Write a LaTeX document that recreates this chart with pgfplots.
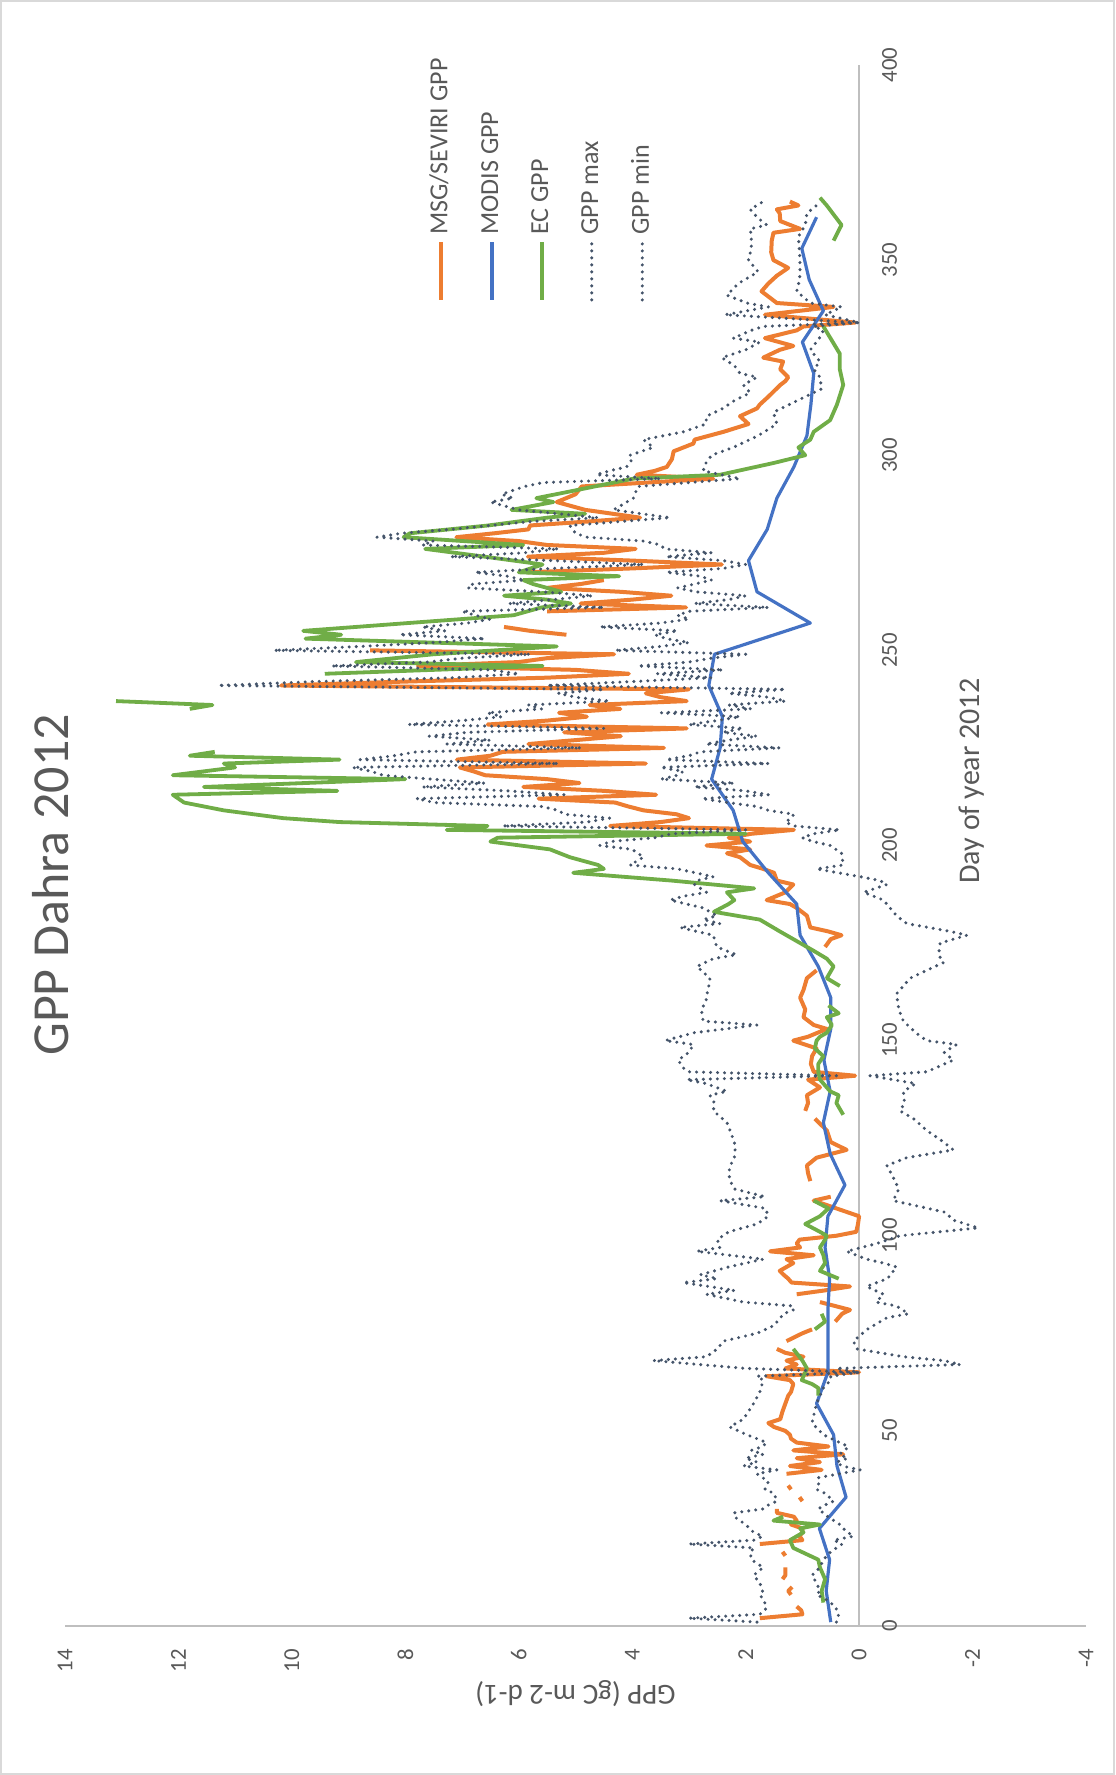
\documentclass[border=0pt]{standalone}
\usepackage{fontspec}
\setmainfont{Carlito}
\usepackage{pgfplots}
\usepackage{pgfplotstable}
\pgfplotsset{compat=1.18}

\definecolor{msg}{HTML}{ED7D31}
\definecolor{modis}{HTML}{4472C4}
\definecolor{ec}{HTML}{70AD47}
\definecolor{env}{HTML}{44546A}
\definecolor{txt}{HTML}{595959}
\definecolor{axln}{HTML}{BFBFBF}
\definecolor{chartframe}{HTML}{D9D9D9}

% MSG/SEVIRI daily GPP (nan = missing day)
\pgfplotstableread{
day val
2 1.75
3 1.00
4 1.02
5 1.10
6 nan
8 1.20
9 1.25
10 1.18
11 nan
12 1.35
13 1.30
15 1.30
16 nan
18 1.30
19 1.35
20 nan
21 1.75
22 1.00
23 1.05
24 1.00
25 1.00
26 1.20
27 1.10
28 1.15
29 1.45
30 1.45
31 nan
32 1.00
33 1.05
34 nan
35 1.20
36 1.25
37 nan
39 1.28
40 0.66
41 1.22
42 0.69
43 1.10
44 0.28
45 1.16
46 0.54
47 1.10
48 1.20
49 1.22
50 1.30
51 1.50
52 1.60
53 1.39
55 1.35
57 1.30
59 1.25
60 1.20
62 1.16
63 1.22
64 1.63
65 0.00
66 1.30
67 1.10
68 1.28
69 0.98
70 1.30
71 1.45
72 nan
73 1.28
75 1.00
76 0.83
77 nan
78 0.42
80 0.30
81 0.16
83 0.69
84 nan
85 1.10
86 0.60
87 0.16
88 1.19
89 1.25
90 1.33
91 1.40
93 1.16
94 1.28
95 0.80
96 1.57
97 1.04
98 1.10
99 1.05
100 0.40
101 0.05
103 0.02
105 0.00
107 0.40
109 0.80
110 0.50
111 nan
114 0.86
116 0.90
118 0.92
120 0.75
122 0.22
124 0.50
127 0.57
130 0.78
131 nan
132 0.95
134 0.90
136 0.92
138 0.69
140 0.90
141 0.07
142 0.80
144 0.85
146 0.83
148 0.75
150 1.16
151 0.90
153 0.57
154 0.80
156 0.98
158 0.95
161 1.04
163 0.98
166 0.92
168 0.75
169 nan
174 0.60
176 0.50
177 0.31
178 0.55
179 0.86
181 0.90
182 0.92
184 1.10
185 1.22
186 1.63
188 1.30
190 1.16
191 1.45
193 1.50
194 1.69
195 1.92
197 2.10
198 2.33
199 1.92
200 2.69
201 1.92
202 2.30
203 1.90
204 1.15
205 4.39
206 3.50
207 3.00
208 3.22
209 3.80
210 4.07
211 4.30
212 5.65
213 3.58
214 4.50
215 5.92
216 4.93
217 5.50
218 6.59
219 6.80
220 7.04
221 3.76
222 7.09
223 6.50
224 6.28
225 3.44
226 5.83
227 5.00
228 4.20
229 5.20
230 3.04
231 6.55
232 5.50
233 4.80
234 5.29
235 4.21
236 4.75
237 3.04
238 3.50
239 3.76
240 3.00
241 10.19
242 8.00
243 5.50
244 4.06
245 5.00
246 7.78
247 6.00
248 5.50
249 4.32
250 8.62
251 nan
254 5.16
255 5.80
256 6.26
257 nan
260 5.50
261 3.05
262 4.91
263 4.00
264 3.31
265 4.20
266 5.50
267 4.91
268 4.50
269 nan
270 5.84
271 4.00
272 2.42
273 4.00
274 5.84
275 4.50
276 3.94
277 5.50
278 6.00
279 7.10
280 6.43
281 5.83
282 5.80
283 4.80
284 3.86
286 4.83
288 5.33
290 5.00
292 4.89
294 2.57
295 3.92
296 3.60
297 3.39
299 3.30
301 3.27
303 2.92
304 2.90
306 2.39
308 1.95
310 2.10
312 1.80
313 1.75
315 1.60
318 1.39
319 1.30
320 1.25
322 1.39
324 1.34
325 1.69
327 1.40
328 1.16
330 1.66
332 1.10
333 0.98
334 0.07
336 1.66
338 0.45
339 1.45
342 1.72
344 1.60
346 1.45
348 1.25
350 1.51
352 1.55
355 1.54
357 1.51
358 1.04
360 1.39
362 1.40
363 1.45
364 1.07
365 1.22
}\msgtab

% MODIS 8-day GPP
\pgfplotstableread{
day val
1 0.50
9 0.58
17 0.52
25 0.70
33 0.23
41 0.39
49 0.45
57 0.75
65 0.55
73 0.55
81 0.55
89 0.52
97 0.60
105 0.55
113 0.25
121 0.51
129 0.63
137 0.51
145 0.62
153 0.50
161 0.50
169 0.72
177 1.04
185 1.10
193 1.60
201 2.05
209 2.22
217 2.60
225 2.45
233 2.41
241 2.65
249 2.55
257 0.86
265 1.80
273 1.95
281 1.62
289 1.45
297 1.15
305 0.92
313 0.85
321 0.80
329 1.00
337 0.63
345 0.88
353 1.01
361 0.75
}\modistab

% Eddy covariance GPP
\pgfplotstableread{
day val
6 0.63
9 0.66
12 0.60
15 0.69
17 0.72
20 1.16
22 1.22
24 0.98
25 1.04
26 0.69
27 1.51
28 1.34
29 nan
59 0.72
61 0.72
62 0.83
63 1.01
66 0.92
68 1.00
71 1.16
72 nan
76 0.78
78 0.60
80 0.66
81 nan
89 0.36
91 0.69
93 0.60
95 0.63
97 0.69
99 0.60
100 0.57
101 0.69
103 0.95
105 0.69
107 0.54
109 0.80
110 nan
131 0.28
134 0.40
136 0.36
137 0.51
140 0.69
142 0.72
144 0.72
146 0.63
148 0.78
150 0.75
151 0.69
152 0.57
154 0.48
156 0.57
157 0.36
159 0.54
160 nan
164 0.34
166 0.57
169 0.45
171 0.57
173 0.80
176 1.16
178 1.40
181 1.75
183 2.56
185 2.30
186 2.20
188 2.33
189 1.85
191 3.30
193 5.04
194 4.50
195 4.60
197 5.10
199 5.45
201 6.50
202 6.37
203 2.00
204 7.27
205 6.55
206 9.16
207 10.15
209 11.20
211 11.90
213 12.10
214 9.20
215 11.55
217 8.00
218 12.10
220 11.00
221 11.20
222 9.16
223 11.80
224 11.36
225 nan
235 11.80
236 11.40
237 13.10
238 nan
244 9.42
246 5.58
247 8.87
249 7.50
251 5.33
253 9.76
254 9.13
255 9.80
256 8.87
257 7.95
259 6.09
261 5.60
262 5.08
263 5.50
264 6.26
265 5.25
267 5.75
268 5.92
269 4.23
270 6.00
272 5.58
274 6.60
276 7.65
277 5.92
279 8.03
280 7.92
282 6.54
284 5.50
285 4.83
286 6.13
288 5.39
289 5.69
291 5.00
294 3.98
295 2.45
298 1.51
300 0.95
302 1.07
304 0.86
306 0.80
309 0.51
313 0.39
318 0.28
322 0.34
326 0.34
333 0.63
334 nan
355 0.45
359 0.31
364 0.57
366 0.69
}\ectab

% Upper envelope
\pgfplotstableread{
day val
1 1.80
2 3.00
3 1.75
4 1.66
5 1.63
7 1.70
8 1.75
9 1.70
11 1.75
13 1.86
15 1.69
17 1.90
19 1.92
20 1.85
21 3.00
22 1.85
23 1.70
24 1.86
26 2.00
28 2.20
29 2.20
30 1.69
31 1.60
32 1.45
34 1.50
35 1.66
37 1.60
39 1.80
40 1.45
41 2.04
42 1.80
43 2.00
44 1.69
45 1.90
46 1.70
47 1.63
48 1.80
49 1.98
51 2.28
53 2.04
55 1.95
57 1.86
60 1.75
63 1.69
64 1.80
65 0.00
66 2.00
68 3.63
69 2.69
71 2.50
73 2.39
75 1.80
77 1.50
80 1.33
81 1.16
82 1.16
83 2.04
85 2.69
86 2.20
88 3.10
89 2.50
90 2.80
92 2.30
94 1.69
96 2.86
97 2.45
99 2.50
101 2.30
103 1.80
105 1.60
107 1.65
109 2.45
110 1.66
112 2.20
114 2.27
116 2.30
118 2.27
120 2.20
123 2.18
126 2.25
129 2.33
132 2.57
134 2.55
136 2.63
137 2.33
139 2.70
140 3.04
141 0.40
142 3.00
143 3.10
145 3.19
147 3.00
149 2.92
150 3.42
152 2.92
154 1.80
155 2.75
158 2.78
160 2.70
162 2.68
164 2.65
166 2.63
169 2.86
171 2.57
172 2.16
174 2.51
177 2.57
179 3.16
180 2.45
181 2.75
182 2.51
184 2.75
186 3.33
187 3.10
188 2.69
190 2.90
191 2.86
192 2.57
194 3.20
195 4.04
197 3.80
199 4.00
200 4.57
201 4.39
202 3.60
203 3.30
204 2.00
205 6.28
206 4.80
207 4.40
208 5.20
209 5.30
210 5.60
211 7.49
212 7.80
213 5.20
214 6.20
215 7.70
216 6.60
217 7.54
218 8.40
219 8.60
220 8.93
221 5.30
222 8.80
223 8.20
224 7.80
225 4.90
226 7.27
227 6.50
228 7.58
229 6.90
230 4.50
231 7.94
232 7.00
233 6.30
234 6.55
235 5.60
236 5.83
237 4.40
238 5.00
239 5.30
240 4.50
241 11.30
242 9.60
243 7.10
244 6.00
245 6.50
246 9.30
247 7.60
248 7.00
249 5.80
250 10.31
251 8.80
252 7.50
253 6.60
254 8.10
255 7.30
256 7.70
257 6.90
258 6.50
259 6.77
260 7.00
261 4.50
262 6.18
263 5.40
264 4.70
265 5.60
266 6.90
267 6.81
268 5.90
269 6.20
270 6.77
271 5.40
272 3.80
273 5.40
274 7.20
275 5.90
276 5.30
277 7.70
278 7.50
279 8.50
280 8.07
281 7.20
282 6.51
283 5.80
284 4.60
286 6.00
288 6.50
289 6.10
290 6.30
292 5.90
293 5.57
294 3.50
295 4.63
296 4.40
297 4.10
299 4.00
300 4.04
302 3.63
304 3.80
306 3.10
308 2.70
310 2.69
312 2.40
314 2.20
316 1.92
318 2.04
320 1.80
321 2.10
323 2.20
325 2.42
327 2.00
329 1.75
330 2.22
332 1.90
333 1.69
334 0.05
336 2.36
338 1.60
339 1.98
341 2.33
344 2.13
347 1.78
350 1.95
353 1.90
356 1.90
358 1.92
359 1.63
361 1.80
363 1.92
365 1.69
}\maxtab

% Lower envelope
\pgfplotstableread{
day val
1 0.40
3 0.36
5 0.42
7 0.60
8 0.75
9 0.69
11 0.75
13 0.83
15 0.69
17 0.63
19 0.50
21 0.30
22 0.45
23 0.10
24 0.20
25 0.28
26 0.34
28 0.55
30 0.72
31 0.60
32 0.45
34 0.60
35 0.75
37 0.70
38 0.72
40 -0.02
41 0.30
42 0.40
43 0.20
44 0.35
45 0.25
46 0.19
47 0.34
49 0.63
52 0.83
54 0.80
57 0.75
61 0.63
63 0.50
64 0.50
65 0.00
66 0.40
67 -1.78
68 -1.50
69 -0.78
71 0.04
73 0.10
76 -0.14
79 -0.49
80 -0.87
82 -0.66
83 -0.30
85 -0.43
87 -0.13
89 -0.50
92 -0.66
93 -0.43
94 -0.13
96 0.22
98 -0.31
100 -0.72
102 -2.10
104 -1.66
106 -1.52
109 -0.60
112 -0.70
115 -0.60
118 -0.49
120 -0.84
122 -1.66
124 -1.49
127 -1.19
130 -0.96
132 -0.72
134 -0.80
137 -0.78
139 -1.00
141 -0.19
142 -1.19
145 -1.66
147 -1.50
149 -1.72
150 -1.19
152 -1.00
155 -0.78
158 -0.70
162 -0.66
166 -0.90
168 -1.19
170 -1.49
172 -1.40
175 -1.43
177 -1.90
178 -1.60
180 -0.84
182 -0.66
186 -0.43
188 -0.08
190 -0.49
191 -0.37
192 -0.02
194 0.75
195 0.28
198 0.31
200 0.51
201 0.81
202 1.00
203 0.80
204 0.34
205 1.15
206 1.30
207 1.20
208 1.15
209 1.60
210 1.80
211 2.32
212 2.77
213 1.60
214 2.00
215 2.90
216 2.20
217 3.49
218 3.20
219 3.10
220 3.50
221 1.60
222 3.40
223 3.00
224 2.80
225 1.40
226 2.70
227 2.30
228 1.80
229 2.40
230 2.05
231 3.00
232 2.50
233 2.10
234 3.49
235 1.90
236 2.30
237 1.30
238 1.60
239 2.30
240 1.30
241 5.50
242 4.00
243 2.60
244 3.56
245 2.40
246 3.90
247 3.00
248 2.60
249 2.00
250 4.30
251 3.50
252 3.00
253 3.40
254 3.60
255 3.20
256 4.57
257 3.50
258 3.00
259 3.20
260 3.00
261 1.60
262 2.90
263 2.30
264 2.00
265 2.88
266 3.20
267 2.90
268 2.60
269 2.80
270 3.40
271 2.40
272 2.00
273 2.40
274 3.40
275 2.60
276 3.43
277 3.50
278 3.80
279 4.80
280 5.00
282 5.10
284 3.33
286 4.33
289 3.98
292 3.90
294 2.10
296 2.75
298 2.70
300 2.60
302 2.22
305 1.78
308 1.45
311 1.51
315 0.95
317 0.66
320 0.69
322 0.80
324 0.69
327 0.86
330 0.70
332 0.63
333 0.80
334 0.00
336 0.60
338 0.31
339 0.86
342 1.10
345 1.05
348 1.04
352 1.05
356 1.07
359 0.95
362 0.92
364 0.75
365 0.70
}\mintab

\begin{document}
\begin{tikzpicture}[
  envline/.style={env, line width=1.7pt, line cap=round, dash pattern=on 0pt off 3.5pt},
  legtext/.style={rotate=90, anchor=west, inner sep=0pt, text height=9pt, text depth=2.5pt,
    font=\fontsize{13}{15.6}\selectfont, text=txt},
]
\useasboundingbox (0,0) rectangle (557.5pt,887.5pt);
\draw[chartframe, line width=1pt] (0.5pt,0.5pt) rectangle (557pt,887pt);
\begin{axis}[
  at={(32.5pt,74.5pt)}, anchor=south west,
  scale only axis, width=510.5pt, height=780.5pt,
  x dir=reverse, xmin=-4, xmax=14, ymin=0, ymax=400,
  axis x line=bottom, axis y line=center,
  axis line style={draw=axln, line width=0.8pt, -},
  hide obscured x ticks=false, hide obscured y ticks=false,
  xtick={-4,-2,...,14}, ytick={0,50,...,400},
  xticklabels={-4,-2,0,2,4,6,8,10,12,14},
  yticklabels={0,50,100,150,200,250,300,350,400},
  major tick length=0pt, tick style={draw=none},
  xticklabel style={yshift=-11.5pt, rotate=90, anchor=east, inner sep=0pt,
    font=\fontsize{11.4}{13}\selectfont, text=txt},
  yticklabel style={xshift=11.3pt, rotate=90, anchor=north, inner sep=0pt,
    font=\fontsize{11.4}{13}\selectfont, text=txt},
  unbounded coords=jump, clip=false,
]
\addplot[msg, line width=2pt, line join=round] table[x=val, y=day]{\msgtab};
\addplot[modis, line width=1.6pt, line join=round] table[x=val, y=day]{\modistab};
\addplot[ec, line width=1.9pt, line join=round] table[x=val, y=day]{\ectab};
\addplot[envline] table[x=val, y=day]{\maxtab};
\addplot[envline] table[x=val, y=day]{\mintab};

% legend, turned with the rest of the chart
\draw[msg, line width=2pt] (axis cs:7.372,339.8) -- (axis cs:7.372,354.7);
\node[legtext] at (axis cs:7.372,356.4) {MSG/SEVIRI GPP};
\draw[modis, line width=2pt] (axis cs:6.478,339.8) -- (axis cs:6.478,354.7);
\node[legtext] at (axis cs:6.478,356.4) {MODIS GPP};
\draw[ec, line width=2pt] (axis cs:5.596,339.8) -- (axis cs:5.596,354.7);
\node[legtext] at (axis cs:5.596,356.4) {EC GPP};
\draw[envline] (axis cs:4.714,339.8) -- (axis cs:4.714,354.7);
\node[legtext] at (axis cs:4.714,356.4) {GPP max};
\draw[envline] (axis cs:3.822,339.8) -- (axis cs:3.822,354.7);
\node[legtext] at (axis cs:3.822,356.4) {GPP min};

\node[rotate=90, font=\fontsize{26}{31}\selectfont, text=txt] at (axis cs:14.25,189.9) {GPP Dahra 2012};
\node[rotate=90, font=\fontsize{15}{18}\selectfont, text=txt] at (axis cs:-1.98,216.5) {Day of year 2012};
\node[rotate=180, font=\fontsize{14.5}{17}\selectfont, text=txt] at (axis cs:5,-17.2) {GPP (gC m-2 d-1)};
\end{axis}
\end{tikzpicture}
\end{document}
